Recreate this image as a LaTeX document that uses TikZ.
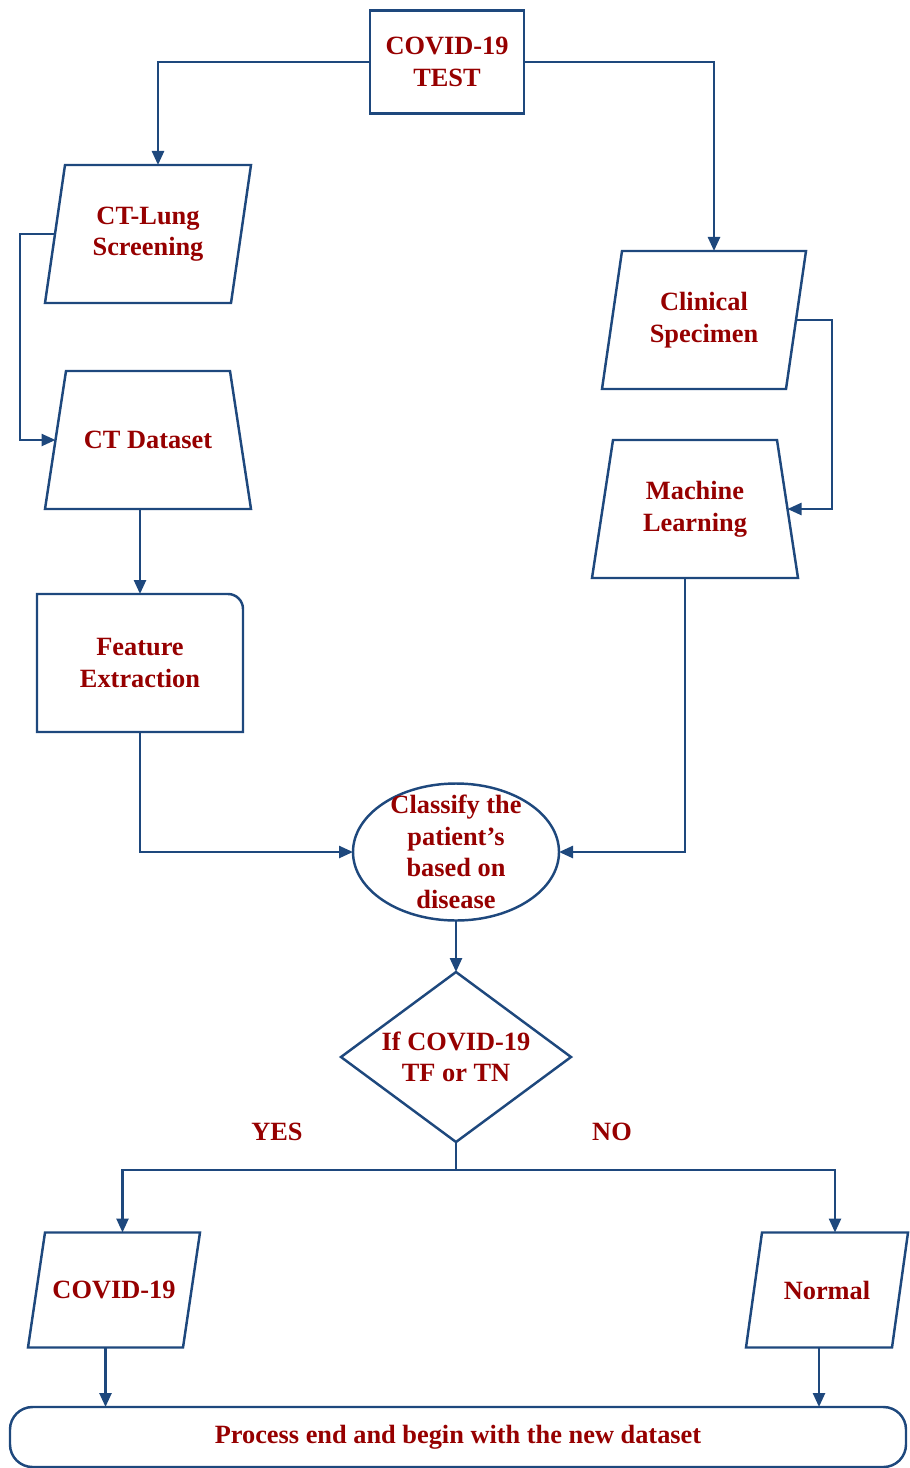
\documentclass[tikz,border=0pt]{standalone}
\usepackage{fontspec}
\setmainfont{Liberation Serif}
\usetikzlibrary{shapes.geometric,arrows.meta}

\definecolor{flowblue}{RGB}{30,72,125}
\definecolor{flowred}{RGB}{150,0,0}

\begin{document}
\begin{tikzpicture}[
  font=\fontsize{15}{18}\selectfont\bfseries,
  flow/.style={draw=flowblue, line width=1.4pt},
  txt/.style={text=flowred, align=center},
  box/.style={flow, txt, outer sep=0pt, minimum width=3.08cm, minimum height=2.06cm},
  plainbox/.style={txt, outer sep=0pt, minimum width=4.12cm, minimum height=2.76cm},
  termbox/.style={flow, txt, rounded corners=0.45cm, outer sep=0pt, minimum width=17.92cm, minimum height=1.2cm},
  >={Triangle[length=2.8mm,width=2.4mm]}]
  \useasboundingbox (0,0) rectangle (18.18,-29.36);

  \node[box] (test) at (8.94,-1.24) {COVID-19\\TEST};

  % left branch
  \node[plainbox] (lung) at (2.96,-4.68) {CT-Lung\\Screening};
  \draw[flow] ([xshift=0.4cm]lung.north west) -- (lung.north east) -- ([xshift=-0.4cm]lung.south east) -- (lung.south west) -- cycle;
  \node[plainbox] (ctdata) at (2.96,-8.80) {CT Dataset};
  \draw[flow] ([xshift=0.42cm]ctdata.north west) -- ([xshift=-0.42cm]ctdata.north east) -- (ctdata.south east) -- (ctdata.south west) -- cycle;
  \node[plainbox] (feat) at (2.80,-13.26) {Feature\\Extraction};
  \draw[flow] (feat.south west) -- (feat.north west) -- ([xshift=-0.3cm]feat.north east)
    arc[start angle=90, end angle=0, radius=0.3cm] -- (feat.south east) -- cycle;

  % right branch
  \node[plainbox, minimum width=4.08cm] (clin) at (14.08,-6.40) {Clinical\\Specimen};
  \draw[flow] ([xshift=0.4cm]clin.north west) -- (clin.north east) -- ([xshift=-0.4cm]clin.south east) -- (clin.south west) -- cycle;
  \node[plainbox] (ml) at (13.90,-10.18) {Machine\\Learning};
  \draw[flow] ([xshift=0.42cm]ml.north west) -- ([xshift=-0.42cm]ml.north east) -- (ml.south east) -- (ml.south west) -- cycle;

  % decision
  \node[flow, ellipse, inner sep=0pt, outer sep=0pt, minimum width=4.12cm, minimum height=2.74cm,
    label={[txt]center:Classify the\\patient's\\based on\\disease}] (cls) at (9.12,-17.04) {};
  \node[flow, diamond, inner sep=0pt, outer sep=0pt, minimum width=4.6cm, minimum height=3.4cm,
    label={[txt]center:If COVID-19\\TF or TN}] (dec) at (9.12,-21.14) {};
  \node[txt] (yes) at (5.54,-22.64) {YES};
  \node[txt] (no) at (12.24,-22.64) {NO};

  % outcomes
  \node[plainbox, minimum width=3.44cm, minimum height=2.30cm] (cov) at (2.28,-25.80) {COVID-19};
  \draw[flow] ([xshift=0.34cm]cov.north west) -- (cov.north east) -- ([xshift=-0.34cm]cov.south east) -- (cov.south west) -- cycle;
  \node[plainbox, minimum width=3.24cm, minimum height=2.30cm] (norm) at (16.54,-25.80) {Normal};
  \draw[flow] ([xshift=0.32cm]norm.north west) -- (norm.north east) -- ([xshift=-0.32cm]norm.south east) -- (norm.south west) -- cycle;
  \node[termbox] (term) at (9.16,-28.74) {Process end and begin with the new dataset};

  % connectors
  \draw[flow, ->] (test.west) -| ([xshift=0.2cm]lung.north);
  \draw[flow, ->] (test.east) -| ([xshift=0.2cm]clin.north);
  \draw[flow, ->] ([xshift=0.2cm]lung.west) -- ++(-0.7,0) |- ([xshift=0.21cm]ctdata.west);
  \draw[flow, ->] (ctdata.south -| feat.north) -- (feat.north);
  \draw[flow, ->] (feat.south) |- (cls.west);
  \draw[flow, ->] ([xshift=-0.2cm]clin.east) -- ++(0.72,0) |- ([xshift=-0.21cm]ml.east);
  \draw[flow, ->] ([xshift=-0.2cm]ml.south) |- (cls.east);
  \draw[flow, ->] (cls.south) -- (dec.north);
  \draw[flow] (dec.south) -- ++(0,-0.56) coordinate (split);
  \draw[flow, ->] (split) -| ([xshift=0.17cm]cov.north);
  \draw[flow, ->] (split) -| ([xshift=0.16cm]norm.north);
  \draw[flow, ->] ([xshift=-0.17cm]cov.south) -- ([xshift=-0.17cm]cov.south |- term.north);
  \draw[flow, ->] ([xshift=-0.16cm]norm.south) -- ([xshift=-0.16cm]norm.south |- term.north);
\end{tikzpicture}
\end{document}
